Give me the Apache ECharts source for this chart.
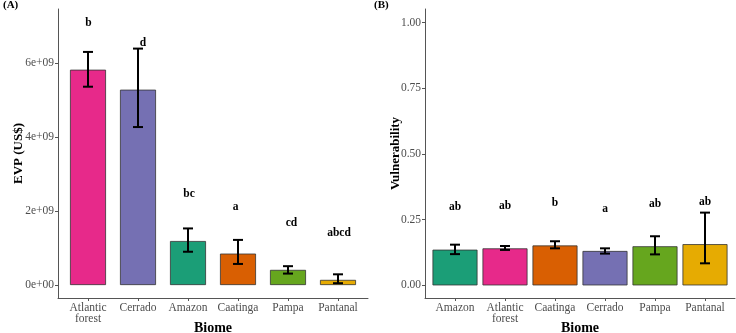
<!DOCTYPE html>
<html>
<head>
<meta charset="utf-8">
<script src="https://cdn.jsdelivr.net/npm/echarts@6/dist/echarts.min.js"></script>
<style>
  html, body { margin: 0; padding: 0; background: #fff; }
  #chart { width: 736px; height: 333px; }
</style>
</head>
<body>
<div id="chart"></div>
<script>
// panel A: economic value of production
const biomesA = ['Atlantic\nforest', 'Cerrado', 'Amazon', 'Caatinga', 'Pampa', 'Pantanal'];
const colorsA = ['#E7298A', '#7570B3', '#1B9E77', '#D95F02', '#66A61E', '#E6AB02'];
const evpMean = [5.82e9, 5.28e9, 1.19e9, 0.85e9, 0.41e9, 0.14e9];
const evpLow = [5.36e9, 4.27e9, 0.90e9, 0.57e9, 0.31e9, 0.05e9];
const evpHigh = [6.30e9, 6.39e9, 1.53e9, 1.22e9, 0.51e9, 0.29e9];
const evpLetters = ['b', 'd', 'bc', 'a', 'cd', 'abcd'];
const evpLetterX = [1.01, 2.1, 3.02, 3.95, 5.07, 6.02];
const evpLetterY = [7.08e9, 6.54e9, 2.46e9, 2.11e9, 1.68e9, 1.41e9];
const evpTicks = [0, 2e9, 4e9, 6e9];
const evpTickLabels = ['0e+00', '2e+09', '4e+09', '6e+09'];

// panel B: vulnerability
const biomesB = ['Amazon', 'Atlantic\nforest', 'Caatinga', 'Cerrado', 'Pampa', 'Pantanal'];
const colorsB = ['#1B9E77', '#E7298A', '#D95F02', '#7570B3', '#66A61E', '#E6AB02'];
const vulMean = [0.136, 0.141, 0.152, 0.131, 0.149, 0.157];
const vulLow = [0.119, 0.135, 0.141, 0.121, 0.118, 0.084];
const vulHigh = [0.155, 0.150, 0.168, 0.141, 0.187, 0.277];
const vulLetters = ['ab', 'ab', 'b', 'a', 'ab', 'ab'];
const vulLetterY = [0.297, 0.302, 0.315, 0.290, 0.310, 0.319];
const vulTicks = [0, 0.25, 0.5, 0.75, 1];
const vulTickLabels = ['0.00', '0.25', '0.50', '0.75', '1.00'];

const positions = [1, 2, 3, 4, 5, 6];
const serif = 'Liberation Serif';
const axisColor = '#555';

const chart = echarts.init(document.getElementById('chart'));

function xAxisFor(gridIndex, names) {
    return {
        type: 'value', gridIndex: gridIndex, min: 0.4, max: 6.6,
        name: 'Biome', nameLocation: 'middle', nameGap: 23, nameMoveOverlap: false,
        nameTextStyle: { fontFamily: serif, fontWeight: 'bold', fontSize: 14, color: '#000' },
        axisLine: { show: true, onZero: false, lineStyle: { color: axisColor, width: 1 } },
        axisTick: { show: true, length: 3, customValues: positions, lineStyle: { color: axisColor } },
        axisLabel: {
            customValues: positions, margin: 4, fontFamily: serif, fontSize: 11.5,
            color: '#4d4d4d', lineHeight: 11,
            formatter: v => names[Math.round(v) - 1]
        },
        splitLine: { show: false }
    };
}

function yAxisFor(gridIndex, min, max, ticks, labels, title, gap) {
    return {
        type: 'value', gridIndex: gridIndex, min: min, max: max,
        name: title, nameLocation: 'middle', nameGap: gap, nameRotate: 90, nameMoveOverlap: false,
        nameTextStyle: { fontFamily: serif, fontWeight: 'bold', fontSize: 13, color: '#000' },
        axisLine: { show: true, onZero: false, lineStyle: { color: axisColor, width: 1 } },
        axisTick: { show: true, length: 3, customValues: ticks, lineStyle: { color: axisColor } },
        axisLabel: {
            customValues: ticks, margin: 4, fontFamily: serif, fontSize: 11.5, color: '#4d4d4d',
            formatter: v => labels[ticks.indexOf(v)]
        },
        splitLine: { show: false }
    };
}

function barsFor(idx, means, colors, width) {
    return {
        type: 'bar', xAxisIndex: idx, yAxisIndex: idx, barWidth: width,
        data: means.map((v, i) => ({
            value: [positions[i], v],
            itemStyle: { color: colors[i], borderColor: '#333', borderWidth: 0.8 }
        })),
        silent: true
    };
}

function errorsFor(idx, low, high) {
    return {
        type: 'custom', xAxisIndex: idx, yAxisIndex: idx, silent: true, z: 5,
        data: low.map((v, i) => [positions[i], v, high[i]]),
        renderItem: (params, api) => {
            const lo = api.coord([api.value(0), api.value(1)]);
            const hi = api.coord([api.value(0), api.value(2)]);
            const w = 5;
            const style = { stroke: '#000', lineWidth: 2 };
            return {
                type: 'group',
                children: [
                    { type: 'line', shape: { x1: lo[0], y1: lo[1], x2: hi[0], y2: hi[1] }, style: style },
                    { type: 'line', shape: { x1: lo[0] - w, y1: lo[1], x2: lo[0] + w, y2: lo[1] }, style: style },
                    { type: 'line', shape: { x1: hi[0] - w, y1: hi[1], x2: hi[0] + w, y2: hi[1] }, style: style }
                ]
            };
        }
    };
}

function lettersFor(idx, xs, ys, letters) {
    return {
        type: 'custom', xAxisIndex: idx, yAxisIndex: idx, silent: true, z: 6,
        data: ys.map((v, i) => [xs[i], v]),
        renderItem: (params, api) => {
            const p = api.coord([api.value(0), api.value(1)]);
            return {
                type: 'text', x: p[0], y: p[1],
                style: {
                    text: letters[params.dataIndex], fill: '#000',
                    font: 'bold 11.5px "Liberation Serif"', align: 'center', verticalAlign: 'middle'
                }
            };
        }
    };
}

chart.setOption({
    animation: false,
    backgroundColor: '#fff',
    grid: [
        { left: 58, width: 310, top: 9, bottom: 35, outerBoundsMode: 'none', containLabel: false },
        { left: 425, width: 310, top: 9, bottom: 35, outerBoundsMode: 'none', containLabel: false }
    ],
    graphic: [
        { type: 'text', left: 3, top: 0, style: { text: '(A)', font: 'bold 11px "Liberation Serif"', fill: '#000' } },
        { type: 'text', left: 374, top: 0, style: { text: '(B)', font: 'bold 11px "Liberation Serif"', fill: '#000' } }
    ],
    xAxis: [xAxisFor(0, biomesA), xAxisFor(1, biomesB)],
    yAxis: [
        yAxisFor(0, -0.35e9, 7.46e9, evpTicks, evpTickLabels, 'EVP (US$)', 33),
        yAxisFor(1, -0.048, 1.052, vulTicks, vulTickLabels, 'Vulnerability', 23)
    ],
    series: [
        barsFor(0, evpMean, colorsA, 36),
        errorsFor(0, evpLow, evpHigh),
        lettersFor(0, evpLetterX, evpLetterY, evpLetters),
        barsFor(1, vulMean, colorsB, 45),
        errorsFor(1, vulLow, vulHigh),
        lettersFor(1, positions, vulLetterY, vulLetters)
    ]
});
</script>
</body>
</html>
